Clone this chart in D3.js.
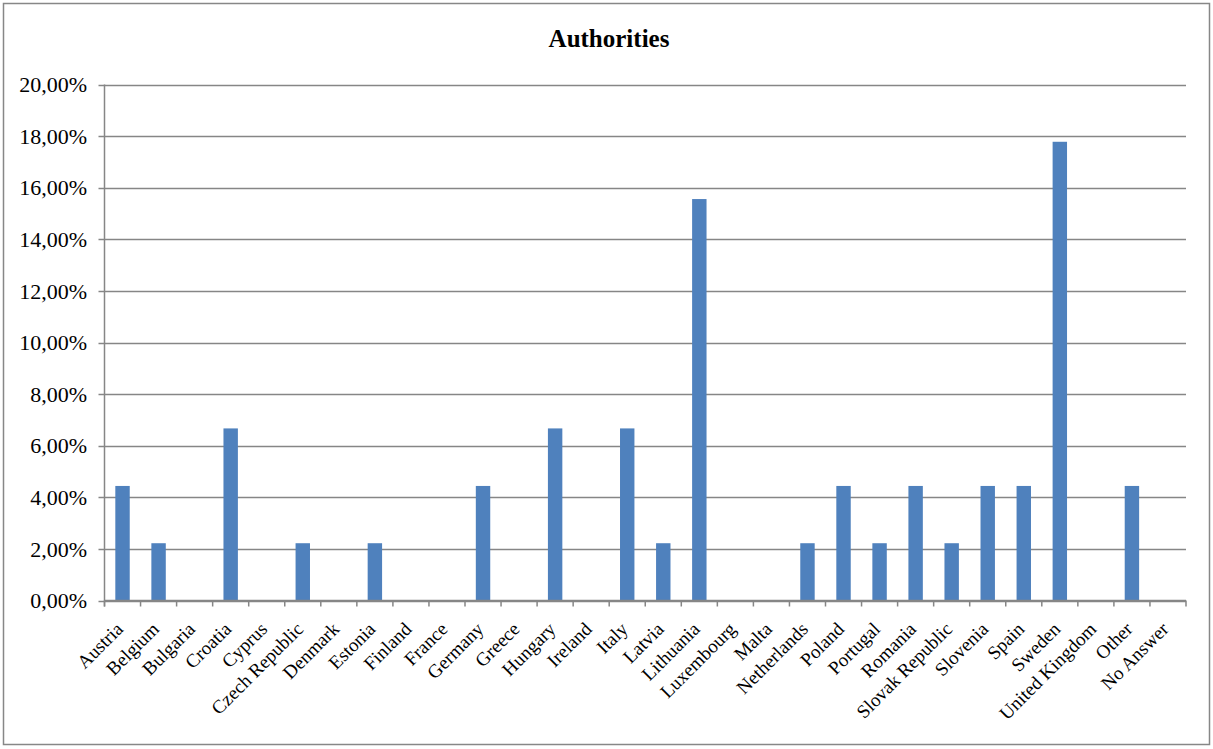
<!DOCTYPE html>
<html><head><meta charset="utf-8">
<script src="https://cdn.jsdelivr.net/npm/d3@7/dist/d3.min.js"></script>
<style>body{margin:0;background:#fff}svg{display:block}</style>
</head><body>
<svg id="c" width="1213" height="749"></svg>
<script>
const categories = ["Austria","Belgium","Bulgaria","Croatia","Cyprus","Czech Republic","Denmark","Estonia","Finland","France","Germany","Greece","Hungary","Ireland","Italy","Latvia","Lithuania","Luxembourg","Malta","Netherlands","Poland","Portugal","Romania","Slovak Republic","Slovenia","Spain","Sweden","United Kingdom","Other","No Answer"];
const values = [4.44,2.22,0,6.67,0,2.22,0,2.22,0,0,4.44,0,6.67,0,6.67,2.22,15.56,0,0,2.22,4.44,2.22,4.44,2.22,4.44,4.44,17.78,0,4.44,0];
const yTicks = [0,2,4,6,8,10,12,14,16,18,20];
const title = "Authorities";

const svg = d3.select("#c");
const font = "'Liberation Serif','Times New Roman',serif";
svg.append("rect").attr("x",3.5).attr("y",3.5).attr("width",1206).attr("height",741)
  .attr("fill","#fff").attr("stroke","#878787").attr("stroke-width",1.5);

const L=104.5, R=1186, T=84.5, B=600.5;
const x = d3.scaleBand().domain(categories).range([L,R]).paddingInner(0.6).paddingOuter(0.3);
const xb = d3.scaleBand().domain(categories).range([L,R]);
const y = d3.scaleLinear().domain([0,20]).range([B,T]);

svg.append("text").attr("x",609).attr("y",47).attr("text-anchor","middle")
  .attr("font-family",font).attr("font-weight","bold").attr("font-size",25).text(title);

const g = svg.append("g");
g.selectAll("line.grid").data(yTicks).join("line").attr("class","grid")
  .attr("x1",L-6).attr("x2",R).attr("y1",d=>Math.round(y(d))+0.5).attr("y2",d=>Math.round(y(d))+0.5)
  .attr("stroke","#868686").attr("stroke-width",1.5);
g.selectAll("text.yl").data(yTicks).join("text").attr("class","yl")
  .attr("x",87).attr("y",d=>y(d)).attr("dy","0.35em").attr("text-anchor","end")
  .attr("font-family",font).attr("font-size",22).attr("fill","#000")
  .text(d=>d.toFixed(2).replace(".",",")+"%");

g.selectAll("rect.bar").data(values).join("rect").attr("class","bar")
  .attr("x",(d,i)=>x(categories[i])).attr("width",x.bandwidth())
  .attr("y",d=>y(d)).attr("height",d=>B-y(d)).attr("fill","#4F81BD");

g.append("line").attr("x1",L).attr("x2",L).attr("y1",T).attr("y2",B+6).attr("stroke","#868686").attr("stroke-width",1.5);
g.append("line").attr("x1",L).attr("x2",R).attr("y1",B).attr("y2",B).attr("stroke","#868686").attr("stroke-width",1.5);
const tickX = categories.map(c=>xb(c)).concat([R]);
g.selectAll("line.xt").data(tickX).join("line").attr("class","xt")
  .attr("x1",d=>d).attr("x2",d=>d).attr("y1",B).attr("y2",B+6).attr("stroke","#868686").attr("stroke-width",1.5);

g.selectAll("text.xl").data(categories).join("text").attr("class","xl")
  .attr("transform",d=>`translate(${xb(d)+xb.bandwidth()/2-3},${B+25}) rotate(-45)`)
  .attr("text-anchor","end").attr("dy","0.35em")
  .attr("font-family",font).attr("font-size",19).attr("fill","#000").text(d=>d);
</script>
</body></html>
